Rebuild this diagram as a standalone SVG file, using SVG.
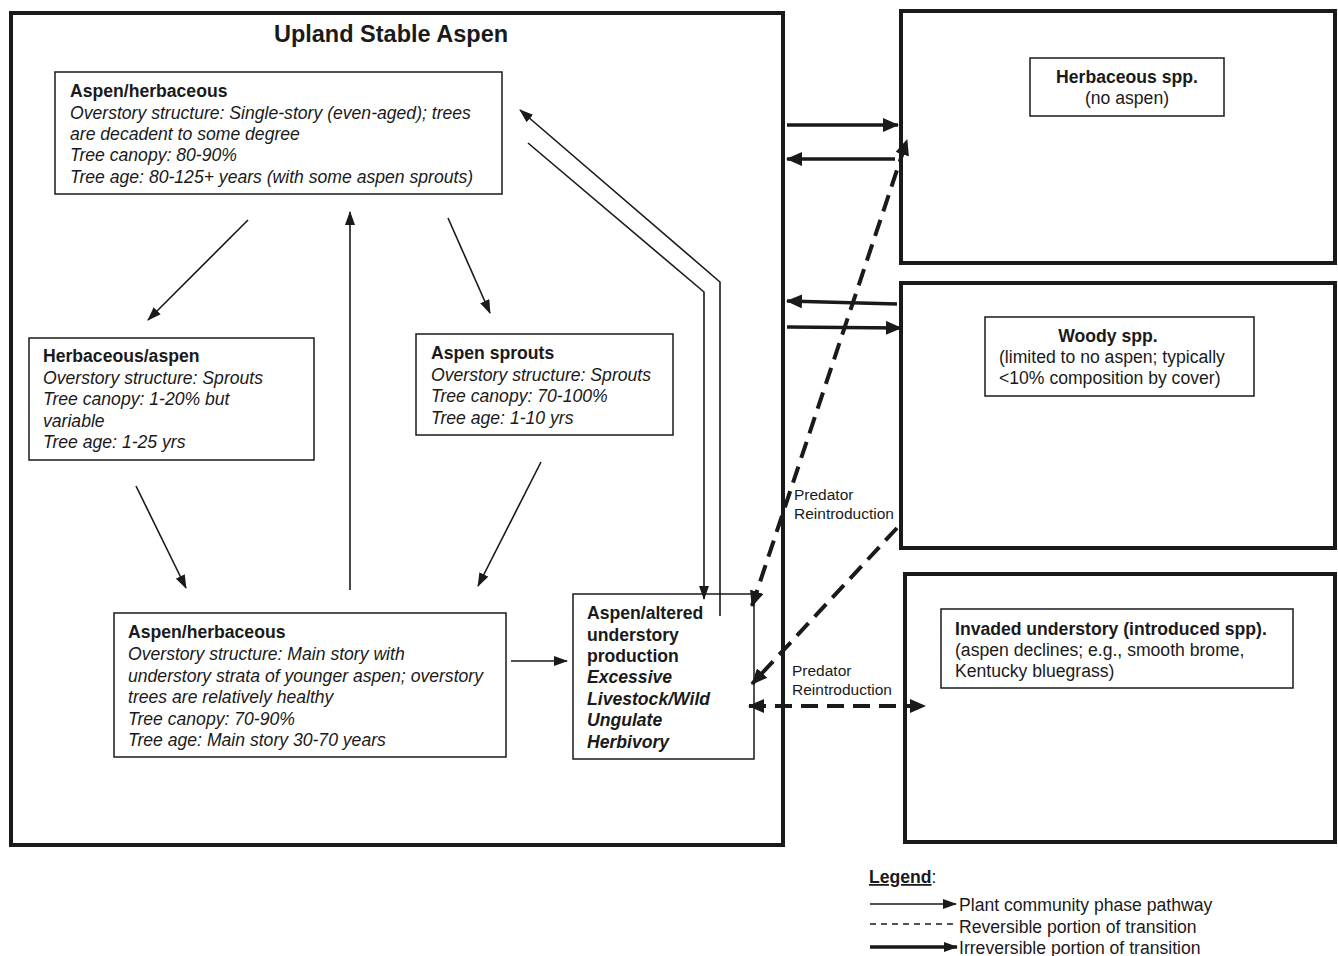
<svg xmlns="http://www.w3.org/2000/svg" width="1338" height="956" viewBox="0 0 1338 956">
<defs>
<marker id="thin" markerUnits="userSpaceOnUse" markerWidth="14" markerHeight="10" refX="13" refY="5" orient="auto"><path d="M0,0 L14,5 L0,10 Z" fill="#1a1a1a"/></marker>
<marker id="thick" markerUnits="userSpaceOnUse" markerWidth="16" markerHeight="14" refX="15" refY="7" orient="auto"><path d="M0,0 L16,7 L0,14 Z" fill="#1a1a1a"/></marker>
<marker id="thickS" markerUnits="userSpaceOnUse" markerWidth="16" markerHeight="14" refX="1" refY="7" orient="auto"><path d="M16,0 L0,7 L16,14 Z" fill="#1a1a1a"/></marker>
</defs>
<style>
text{font-family:"Liberation Sans",Arial,sans-serif;fill:#1a1a1a}
.t{font-size:17.6px}
.b{font-weight:bold}
.i{font-style:italic}
.big{fill:none;stroke:#1a1a1a;stroke-width:4}
.box{fill:#fff;stroke:#1a1a1a;stroke-width:1.5}
.ln{fill:none;stroke:#1a1a1a;stroke-width:1.6}
.tk{fill:none;stroke:#1a1a1a;stroke-width:3.5}
.ds{fill:none;stroke:#1a1a1a;stroke-width:4;stroke-dasharray:17 9}
.lab{font-size:15.5px}
</style>
<rect width="1338" height="956" fill="#fff"/>

<g id="upland-stable-aspen">
<rect class="big" x="11" y="13" width="772" height="832"/>
<text x="391" y="42" text-anchor="middle" class="b" style="font-size:23.5px">Upland Stable Aspen</text>
</g>

<g id="herbaceous-spp">
<rect class="big" x="901" y="11" width="434" height="252"/>
<rect class="box" x="1030" y="58" width="194" height="58"/>
<text class="t b" x="1127" y="83" text-anchor="middle">Herbaceous spp.</text>
<text class="t" x="1127" y="104" text-anchor="middle">(no aspen)</text>
</g>

<g id="woody-spp">
<rect class="big" x="901" y="283" width="434" height="265"/>
<rect class="box" x="985" y="317" width="269" height="79"/>
<text class="t b" x="1108" y="342" text-anchor="middle">Woody spp.</text>
<text class="t" x="999" y="363">(limited to no aspen; typically</text>
<text class="t" x="999" y="384">&lt;10% composition by cover)</text>
</g>

<g id="invaded-understory">
<rect class="big" x="905" y="574" width="430" height="268"/>
<rect class="box" x="941" y="609" width="352" height="79"/>
<text class="t b" x="955" y="635">Invaded understory (introduced spp).</text>
<text class="t" x="955" y="656">(aspen declines; e.g., smooth brome,</text>
<text class="t" x="955" y="677">Kentucky bluegrass)</text>
</g>

<g id="aspen-herbaceous-top">
<rect class="box" x="55" y="72" width="447" height="122"/>
<text class="t b" x="70" y="97">Aspen/herbaceous</text>
<text class="t i" x="70" y="119">Overstory structure: Single-story (even-aged); trees</text>
<text class="t i" x="70" y="140">are decadent to some degree</text>
<text class="t i" x="70" y="161">Tree canopy: 80-90%</text>
<text class="t i" x="70" y="183">Tree age: 80-125+ years (with some aspen sprouts)</text>
</g>

<g id="herbaceous-aspen">
<rect class="box" x="29" y="338" width="285" height="122"/>
<text class="t b" x="43" y="362">Herbaceous/aspen</text>
<text class="t i" x="43" y="384">Overstory structure: Sprouts</text>
<text class="t i" x="43" y="405">Tree canopy: 1-20% but</text>
<text class="t i" x="43" y="427">variable</text>
<text class="t i" x="43" y="448">Tree age: 1-25 yrs</text>
</g>

<g id="aspen-sprouts">
<rect class="box" x="416" y="334" width="257" height="101"/>
<text class="t b" x="431" y="359">Aspen sprouts</text>
<text class="t i" x="431" y="381">Overstory structure: Sprouts</text>
<text class="t i" x="431" y="402">Tree canopy: 70-100%</text>
<text class="t i" x="431" y="424">Tree age: 1-10 yrs</text>
</g>

<g id="aspen-herbaceous-bottom">
<rect class="box" x="114" y="613" width="392" height="144"/>
<text class="t b" x="128" y="638">Aspen/herbaceous</text>
<text class="t i" x="128" y="660">Overstory structure: Main story with</text>
<text class="t i" x="128" y="682">understory strata of younger aspen; overstory</text>
<text class="t i" x="128" y="703">trees are relatively healthy</text>
<text class="t i" x="128" y="725">Tree canopy: 70-90%</text>
<text class="t i" x="128" y="746">Tree age: Main story 30-70 years</text>
</g>

<g id="aspen-altered">
<rect class="box" x="573" y="594" width="181" height="165"/>
<text class="t b" x="587" y="619">Aspen/altered</text>
<text class="t b" x="587" y="641">understory</text>
<text class="t b" x="587" y="662">production</text>
<text class="t b i" x="587" y="683">Excessive</text>
<text class="t b i" x="587" y="705">Livestock/Wild</text>
<text class="t b i" x="587" y="726">Ungulate</text>
<text class="t b i" x="587" y="748">Herbivory</text>
</g>

<g id="connectors">
<line class="ln" x1="248" y1="220" x2="148" y2="320" marker-end="url(#thin)"/>
<line class="ln" x1="448" y1="218" x2="490" y2="313" marker-end="url(#thin)"/>
<line class="ln" x1="350" y1="590" x2="350" y2="212" marker-end="url(#thin)"/>
<line class="ln" x1="136" y1="486" x2="186" y2="588" marker-end="url(#thin)"/>
<line class="ln" x1="541" y1="462" x2="478" y2="586" marker-end="url(#thin)"/>
<line class="ln" x1="511" y1="661" x2="567" y2="661" marker-end="url(#thin)"/>
<polyline class="ln" points="720,616 720,282 520,110" marker-end="url(#thin)"/>
<polyline class="ln" points="528,143 704,292 704,599" marker-end="url(#thin)"/>

<line class="tk" x1="787" y1="125" x2="898" y2="125" marker-end="url(#thick)"/>
<line class="tk" x1="895" y1="159" x2="787" y2="159" marker-end="url(#thick)"/>
<line class="tk" x1="897" y1="304" x2="787" y2="301" marker-end="url(#thick)"/>
<line class="tk" x1="787" y1="327" x2="901" y2="328" marker-end="url(#thick)"/>

<line class="ds" x1="752" y1="606" x2="907" y2="140" marker-start="url(#thickS)" marker-end="url(#thick)"/>
<line class="ds" x1="897" y1="528" x2="752" y2="684" marker-end="url(#thick)"/>
<line class="ds" x1="749" y1="706" x2="925" y2="706" marker-start="url(#thickS)" marker-end="url(#thick)"/>

<text class="lab" x="794" y="500">Predator</text>
<text class="lab" x="794" y="519">Reintroduction</text>
<text class="lab" x="792" y="676">Predator</text>
<text class="lab" x="792" y="695">Reintroduction</text>
</g>

<g id="legend">
<text class="t" x="869" y="883"><tspan class="b" text-decoration="underline">Legend</tspan>:</text>
<line class="ln" x1="870" y1="904" x2="956" y2="904" marker-end="url(#thin)"/>
<text class="t" x="959" y="911">Plant community phase pathway</text>
<line class="ln" x1="870" y1="924" x2="956" y2="924" stroke-dasharray="6 5"/>
<text class="t" x="959" y="933">Reversible portion of transition</text>
<line class="tk" x1="870" y1="947" x2="957" y2="947" marker-end="url(#thin)"/>
<text class="t" x="959" y="954">Irreversible portion of transition</text>
</g>
</svg>
